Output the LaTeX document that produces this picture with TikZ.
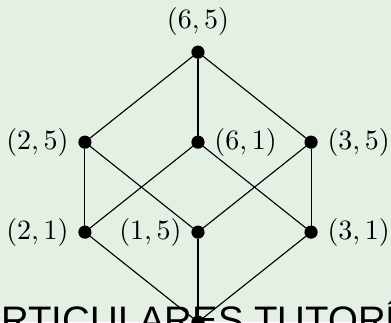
\documentclass[tikz,border=0pt]{standalone}
\usepackage{amsmath,amssymb}
\usepackage{fontspec}
\newfontfamily\wmfont{Liberation Sans}
\usetikzlibrary{positioning,calc}
\definecolor{bgreen}{RGB}{228,240,228}
\tikzset{bvert/.style={draw,circle,fill=black,minimum size=4.3pt,inner sep=0pt}  }
\begin{document}
\begin{tikzpicture}[x=1.42cm,y=1.13cm]
	\fill[bgreen] (-1.751,0) rectangle (1.707,3.58);
	\useasboundingbox (-1.751,0) rectangle (1.707,3.58);

		\coordinate[bvert,label={above:$(6,5)$}] (p65) at (0,3);
			\coordinate[bvert,label={left:$(2,5)$}] (p25) at (-1,2);
			\coordinate[bvert,label={right:$(6,1)$}] (p61) at (0,2);
			\coordinate[bvert,label={right:$(3,5)$}] (p35) at (1,2);
			\coordinate[bvert,label={left:$(2,1)$}] (p21) at (-1,1);
			\coordinate[bvert,label={left:$(1,5)$}] (p15) at (0,1);
			\coordinate[bvert,label={right:$(3,1)$}] (p31) at (1,1);
		\coordinate[bvert] (p11) at (0,0);

			\draw[-]
				  (p65) edge (p25) edge (p61) edge (p35)
				  (p25) edge (p21) edge (p15)
				  (p61) edge (p21) edge (p31)
				  (p35) edge (p15) edge (p31)
				  (p11) edge (p21) edge (p15) edge (p31)
				;
				\node[anchor=base west,inner sep=0pt,font=\wmfont\fontsize{13.7}{16}\selectfont] (wm) at (-1.742,-0.13) {RTICULARES TUTORÍ};
	\end{tikzpicture}
\end{document}
